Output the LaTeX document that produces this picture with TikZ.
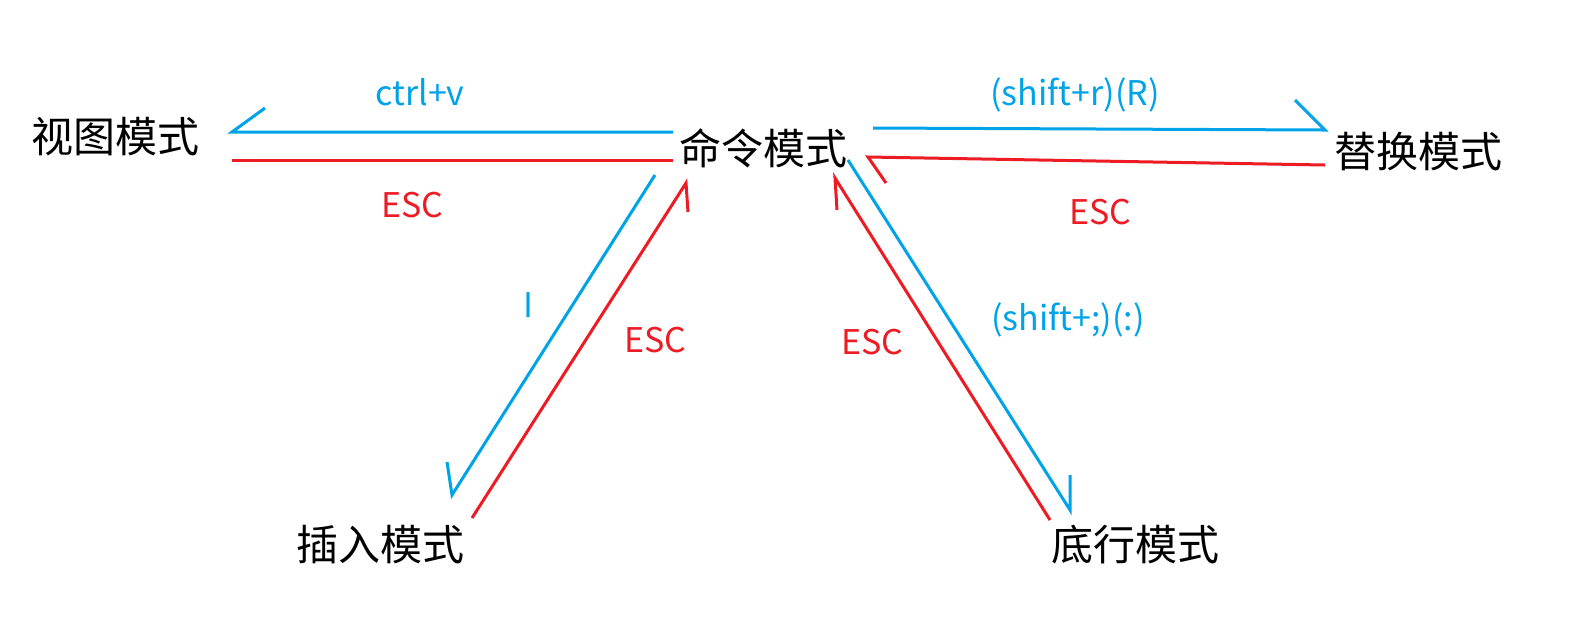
\documentclass[tikz,border=0pt]{standalone}
\usepackage{fontspec}
\setmainfont{Noto Sans CJK SC}
\usetikzlibrary{positioning}
\definecolor{keyblue}{RGB}{0,162,232}
\definecolor{escred}{RGB}{237,28,36}
\tikzset{
  mode/.style={font=\fontsize{21}{24}\selectfont, inner sep=0pt},
  keyline/.style={keyblue, line width=1.5pt},
  escline/.style={escred, line width=1.5pt},
  keylabel/.style={keyblue, font=\fontsize{17}{20}\selectfont},
  esclabel/.style={escred, font=\fontsize{17}{20}\selectfont}
}
\begin{document}
\begin{tikzpicture}[x=0.5pt, y=-0.5pt]
\useasboundingbox (0,0) rectangle (1582,629);
% 模式
\node[mode] (view) at (115,137) {视图模式};
\node[mode] (cmd) at (763,148) {命令模式};
\node[mode] (repl) at (1418,152) {替换模式};
\node[mode] (ins) at (380,545) {插入模式};
\node[mode] (last) at (1135,545) {底行模式};
% 命令 -> 视图
\coordinate (v1) at (673,132); \coordinate (v2) at (232,132);
\draw[keyline] (v1) -- (v2) -- (265,108);
\draw[escline] (232,160) -- (673,160);
% 命令 <-> 替换
\coordinate (r1) at (873,128); \coordinate (r2) at (1325,130);
\draw[keyline] (r1) -- (r2) -- (1295,100);
\coordinate (r3) at (1325,165); \coordinate (r4) at (868,157);
\draw[escline] (r3) -- (r4) -- (886,183);
% 命令 <-> 插入
\coordinate (i1) at (655,175); \coordinate (i2) at (452,495);
\draw[keyline] (i1) -- (i2) -- (447,462);
\coordinate (i3) at (472,518); \coordinate (i4) at (686,183);
\draw[escline] (i3) -- (i4) -- (688,212);
% 命令 <-> 底行
\coordinate (b1) at (848,160); \coordinate (b2) at (1070,510);
\draw[keyline] (b1) -- (b2) -- (1070,475);
\coordinate (b3) at (1050,520); \coordinate (b4) at (835,178);
\draw[escline] (b3) -- (b4) -- (837,210);
% 标签
\node[keylabel] (lv) at (420,92) {ctrl+v};
\node[esclabel] (ev) at (412,205) {ESC};
\node[keylabel] (lr) at (1075,95) {(shift+r)(R)};
\node[esclabel] (er) at (1100,212) {ESC};
\node[keylabel] (li) at (528,305) {I};
\node[esclabel] (ei) at (655,340) {ESC};
\node[esclabel] (eb) at (872,342) {ESC};
\node[keylabel] (lb) at (1068,320) {(shift+;)(:)};
\end{tikzpicture}
\end{document}
